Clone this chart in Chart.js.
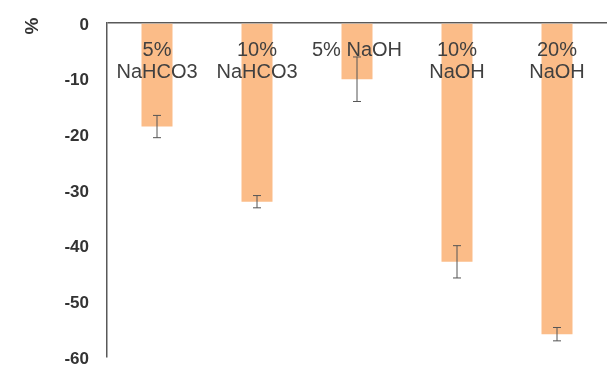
<!DOCTYPE html>
<html>
<head>
<meta charset="utf-8">
<script src="https://cdn.jsdelivr.net/npm/chart.js@4"></script>
<style>
  html, body { margin: 0; padding: 0; background: #fff; }
  #wrap { width: 616px; height: 381px; }
</style>
</head>
<body>
<div id="wrap"><canvas id="myChart"></canvas></div>
<script>
var categories = [['5%', 'NaHCO3'], ['10%', 'NaHCO3'], ['5% NaOH'], ['10%', 'NaOH'], ['20%', 'NaOH']];
var values = [-18.6, -32.1, -10.1, -42.9, -55.9];
var errors = [2.0, 1.1, 4.0, 2.9, 1.2];
var yTicks = [0, -10, -20, -30, -40, -50, -60];
var yLabel = '%';

var axisColor = '#595959';

// error bars drawn from the dataset values through the y scale
var errorBars = {
  id: 'errorBars',
  afterDatasetsDraw: function (chart) {
    var ctx = chart.ctx, y = chart.scales.y;
    var meta = chart.getDatasetMeta(0);
    ctx.save();
    ctx.strokeStyle = '#555';
    ctx.lineWidth = 1;
    meta.data.forEach(function (bar, i) {
      var top = y.getPixelForValue(values[i] + errors[i]);
      var bot = y.getPixelForValue(values[i] - errors[i]);
      ctx.beginPath();
      ctx.moveTo(bar.x, top); ctx.lineTo(bar.x, bot);
      ctx.moveTo(bar.x - 4, top); ctx.lineTo(bar.x + 4, top);
      ctx.moveTo(bar.x - 4, bot); ctx.lineTo(bar.x + 4, bot);
      ctx.stroke();
    });
    ctx.restore();
  }
};

// category names sit inside the plot, under the zero line
var catLabels = {
  id: 'catLabels',
  afterDatasetsDraw: function (chart) {
    var ctx = chart.ctx, x = chart.scales.x, area = chart.chartArea;
    ctx.save();
    ctx.font = '20px "Liberation Sans", Arial, sans-serif';
    ctx.fillStyle = '#404040';
    ctx.textAlign = 'center';
    ctx.textBaseline = 'middle';
    categories.forEach(function (lines, i) {
      var cx = x.getPixelForValue(i);
      lines.forEach(function (t, j) {
        ctx.fillText(t, cx, area.top + 27 + j * 22);
      });
    });
    // rotated unit label
    ctx.font = 'bold 19px "Liberation Sans", Arial, sans-serif';
    ctx.fillStyle = '#333';
    ctx.translate(33, 26);
    ctx.rotate(-Math.PI / 2);
    ctx.fillText(yLabel, 0, 0);
    ctx.restore();
  }
};

var ctx = document.getElementById('myChart').getContext('2d');
var myChart = new Chart(ctx, {
  type: 'bar',
  data: {
    labels: categories.map(function (c) { return c.join(' '); }),
    datasets: [{
      data: values,
      backgroundColor: '#fbbc88',
      borderWidth: 0,
      barPercentage: 0.31,
      categoryPercentage: 1
    }]
  },
  options: {
    responsive: true,
    maintainAspectRatio: false,
    animation: false,
    layout: { padding: { top: 23, right: 9, bottom: 24, left: 0 } },
    plugins: { legend: { display: false }, tooltip: { enabled: false } },
    scales: {
      x: { display: false },
      y: {
        min: -60,
        max: 0,
        afterBuildTicks: function (s) { s.ticks = yTicks.map(function (v) { return { value: v }; }); },
        afterFit: function (s) { s.width = 107; s.paddingTop = 0; s.paddingBottom = 0; },
        ticks: {
          padding: 18,
          labelOffset: 2,
          color: '#333',
          font: { family: '"Liberation Sans", Arial, sans-serif', size: 17, weight: 'bold' }
        },
        grid: {
          drawTicks: false,
          color: function (c) { return c.tick && c.tick.value === 0 ? axisColor : 'transparent'; },
          lineWidth: 1.5
        },
        border: { display: true, color: axisColor, width: 1.5 }
      }
    }
  },
  plugins: [errorBars, catLabels]
});
</script>
</body>
</html>
